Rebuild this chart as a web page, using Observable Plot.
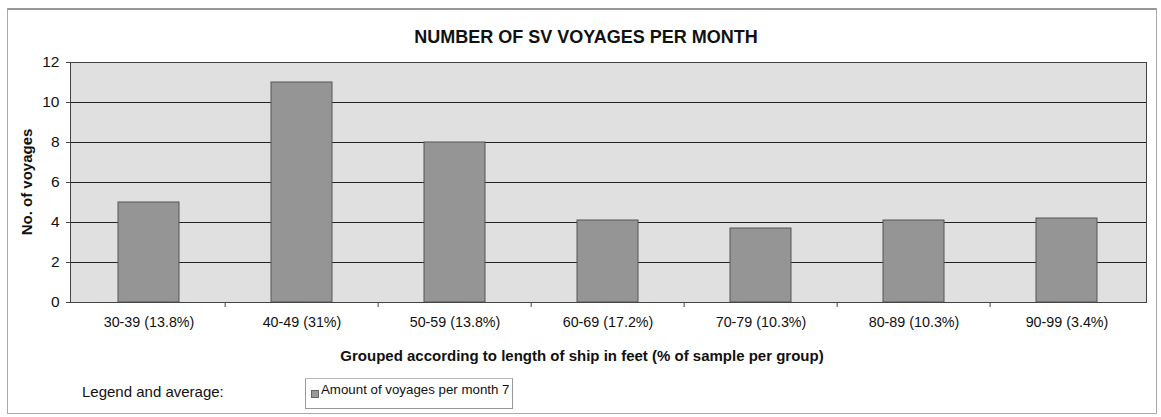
<!DOCTYPE html>
<html><head><meta charset="utf-8">
<script src="https://cdn.jsdelivr.net/npm/d3@7"></script>
<script src="https://cdn.jsdelivr.net/npm/@observablehq/plot@0.6"></script>
<style>
body{margin:0;background:#fff;font-family:Arial,"Liberation Sans",sans-serif;color:#111;}
#wrap{position:relative;width:1161px;height:417px;overflow:hidden;}
#wrap svg{position:absolute;left:0;top:0;}
.abs{position:absolute;white-space:nowrap;}
#border{left:7px;top:8px;width:1148px;height:403px;border:1px solid #aaa;border-top:2px solid #999;}
#title{left:0;width:1172px;text-align:center;top:27px;line-height:20px;font-weight:bold;font-size:18px;}
#ytitle{left:27px;top:182px;transform:translate(-50%,-50%) rotate(-90deg);font-weight:bold;font-size:15px;line-height:16px;}
#xtitle{left:0;width:1164px;text-align:center;top:347px;line-height:18px;font-weight:bold;font-size:15px;}
#leglabel{left:82px;top:383px;line-height:18px;font-size:15px;}
#legbox{left:305px;top:378px;width:206px;height:29px;border:1px solid #999;border-top-color:#bbb;}
#legicon{left:5px;top:11px;width:6px;height:6px;background:#999;border:1px solid #666;}
#legtext{left:15px;top:2px;line-height:18px;font-size:13.3px;}
</style></head><body><div id="wrap"></div>
<script>
const categories = ["30-39 (13.8%)", "40-49 (31%)", "50-59 (13.8%)", "60-69 (17.2%)", "70-79 (10.3%)", "80-89 (10.3%)", "90-99 (3.4%)"];
const voyages = [5, 11, 8, 4.1, 3.7, 4.1, 4.2];
const yTicks = [0, 2, 4, 6, 8, 10, 12];
const titleText = "NUMBER OF SV VOYAGES PER MONTH";
const xTitleText = "Grouped according to length of ship in feet (% of sample per group)";
const yTitleText = "No. of voyages";
const legendLabel = "Legend and average:";
const legendItem = "Amount of voyages per month 7";

const data = categories.map((c, i) => ({group: c, value: voyages[i]}));
const W = 1161, H = 417, mL = 70, mR = 15, mT = 62, mB = 115;
const band = (W - mL - mR) / categories.length;

const chart = Plot.plot({
  width: W, height: H,
  marginLeft: mL, marginRight: mR, marginTop: mT, marginBottom: mB,
  style: {fontFamily: "Arial, 'Liberation Sans', sans-serif", fontSize: "14px", color: "#111", background: "transparent"},
  x: {domain: categories, paddingInner: 0.6, paddingOuter: 0.3, label: null},
  y: {domain: [0, 12], label: null},
  marks: [
    Plot.frame({fill: "#e0e0e0", stroke: "none"}),
    Plot.ruleY(yTicks.filter(t => t > 0 && t < 12), {y: d => d, stroke: "#222", strokeWidth: 1}),
    Plot.barY(data, {x: "group", y: "value", fill: "#959595", stroke: "#555", strokeWidth: 1}),
    Plot.ruleX(categories.slice(1), {x: d => d, dx: -band / 2, y1: 0, y2: -0.25, stroke: "#444"}),
    Plot.frame({stroke: "#444", strokeWidth: 1}),
    Plot.axisY({ticks: yTicks, tickSize: 4, tickPadding: 7, fontSize: 15.5, label: null, stroke: "#444"}),
    Plot.axisX({tickSize: 0, tickPadding: 14, fontSize: 14.3, label: null})
  ]
});
const wrap = document.getElementById("wrap");
wrap.appendChild(chart);
function add(id, text, parent) {
  const d = document.createElement("div");
  d.className = "abs"; d.id = id;
  if (text) d.textContent = text;
  (parent || wrap).appendChild(d);
  return d;
}
add("border");
add("title", titleText);
add("ytitle", yTitleText);
add("xtitle", xTitleText);
add("leglabel", legendLabel);
const box = add("legbox");
add("legicon", null, box);
add("legtext", legendItem, box);
</script></body></html>
